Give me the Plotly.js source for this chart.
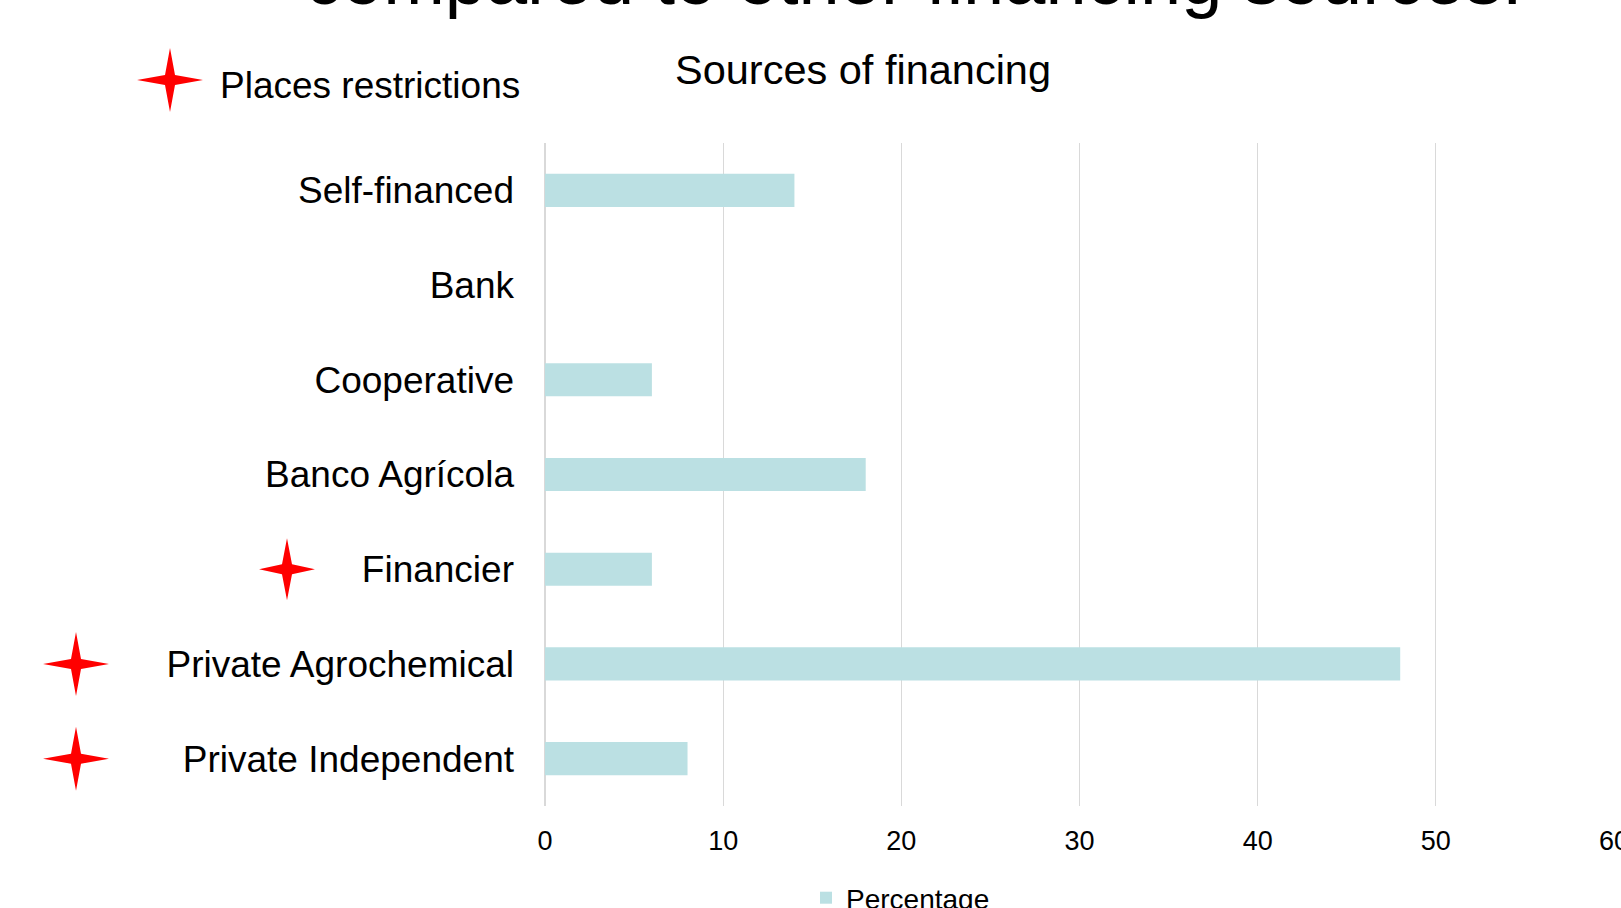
<!DOCTYPE html>
<html>
<head>
<meta charset="utf-8">
<script src="https://cdn.plot.ly/plotly-3.0.1.min.js"></script>
<style>html,body{margin:0;padding:0;background:#fff;}#chart{width:1621px;height:908px;}</style>
</head>
<body>
<div id="chart"></div>
<script>
// ---- data ----
const categories = ["Self-financed", "Bank", "Cooperative", "Banco Agrícola", "Financier", "Private Agrochemical", "Private Independent"];
const percentages = [14, 0, 6, 18, 6, 48, 8];
const restrictedSources = ["Financier", "Private Agrochemical", "Private Independent"];
const seriesName = "Percentage";
const chartTitle = "Sources of financing";
const topTitle = "compared to other financing sources.";
const restrictionLabel = "Places restrictions";
const xTicks = [0, 10, 20, 30, 40, 50, 60];

// ---- styling helpers ----
const FONT = "Liberation Sans, Arial, sans-serif";
const W = 1621, H = 908;
const M = {l: 545, r: 7, t: 143, b: 102, autoexpand: false};
const plotW = W - M.l - M.r, plotH = H - M.t - M.b;
const px2x = p => (p - M.l) / plotW;
const px2y = p => (H - M.b - p) / plotH;

function starPath(hw, hh, a) {
  return `M0,${hh} L${a},${a} L${hw},0 L${a},${-a} L0,${-hh} L${-a},${-a} L${-hw},0 L${-a},${a} Z`;
}
const starStyle = {fillcolor: "#ff0000", line: {width: 0}, layer: "above"};

const shapes = [];
// legend star for "Places restrictions"
shapes.push(Object.assign({
  type: "path", xref: "paper", yref: "paper", xsizemode: "pixel", ysizemode: "pixel",
  xanchor: px2x(170), yanchor: px2y(80), path: starPath(33, 32, 5)
}, starStyle));
// stars next to restricted categories
const starX = {"Financier": 287, "Private Agrochemical": 76, "Private Independent": 76};
const starSize = {"Financier": [28, 31], "Private Agrochemical": [33, 32], "Private Independent": [33, 32]};
restrictedSources.forEach(c => {
  const s = starSize[c];
  shapes.push(Object.assign({
    type: "path", xref: "paper", yref: "y", xsizemode: "pixel", ysizemode: "pixel",
    xanchor: px2x(starX[c]), yanchor: c, path: starPath(s[0], s[1], 5)
  }, starStyle));
});

const trace = {
  type: "bar", orientation: "h",
  y: categories, x: percentages, name: seriesName,
  marker: {color: "#bbe0e3", line: {width: 0}},
  showlegend: true, hoverinfo: "x+y"
};

const layout = {
  width: W, height: H, margin: M,
  paper_bgcolor: "#ffffff", plot_bgcolor: "#ffffff",
  font: {family: FONT, color: "#000000"},
  bargap: 0.65,
  showlegend: true,
  legend: {
    orientation: "h", x: px2x(806), xanchor: "left", y: px2y(873), yanchor: "top",
    font: {size: 28, family: FONT, color: "#000"}, bgcolor: "rgba(0,0,0,0)"
  },
  xaxis: {
    range: [0, 60], tickvals: xTicks, ticktext: xTicks.map(String),
    showgrid: true, gridcolor: "#d9d9d9", gridwidth: 1.3,
    zeroline: true, zerolinecolor: "#d9d9d9", zerolinewidth: 1.3,
    showline: false, ticks: "", tickfont: {size: 27, family: FONT, color: "#000"},
    ticklabelstandoff: 16, ticklabeloverflow: "allow", automargin: false, fixedrange: true
  },
  yaxis: {
    type: "category", autorange: "reversed", showgrid: false, zeroline: false, showline: false,
    ticks: "", tickfont: {size: 37, family: FONT, color: "#000"}, ticklabelstandoff: 30,
    automargin: false, fixedrange: true
  },
  shapes: shapes,
  annotations: [
    {text: topTitle, xref: "paper", yref: "paper", x: px2x(914), y: px2y(-22), xanchor: "center", yanchor: "middle",
     showarrow: false, font: {size: 74, family: FONT, color: "#000"}},
    {text: chartTitle, xref: "paper", yref: "paper", x: px2x(863), y: px2y(70), xanchor: "center", yanchor: "middle",
     showarrow: false, font: {size: 41.5, family: FONT, color: "#000"}},
    {text: restrictionLabel, xref: "paper", yref: "paper", x: px2x(218), y: px2y(85), xanchor: "left", yanchor: "middle",
     showarrow: false, font: {size: 37, family: FONT, color: "#000"}}
  ]
};

Plotly.newPlot("chart", [trace], layout, {displayModeBar: false, staticPlot: true});
</script>
</body>
</html>
